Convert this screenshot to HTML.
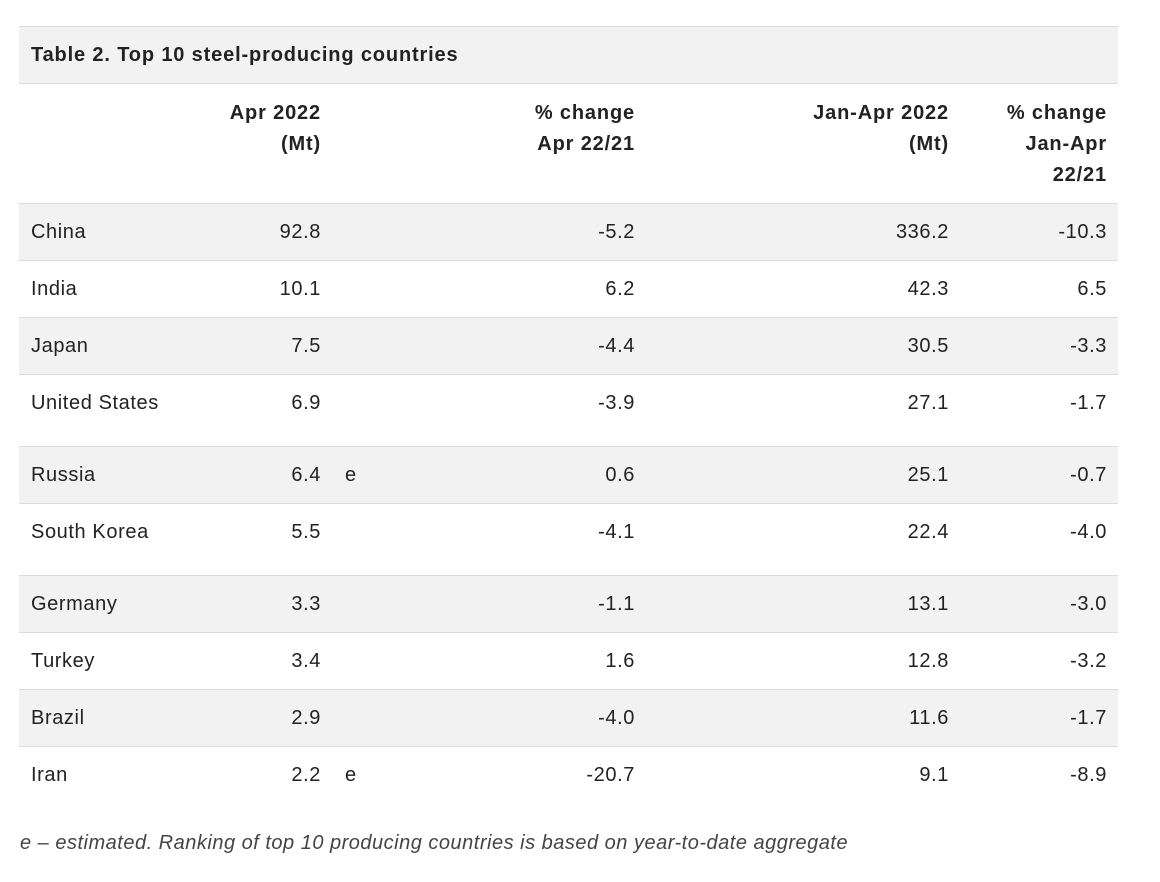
<!DOCTYPE html>
<html><head><meta charset="utf-8"><style>
body{margin:0;width:1160px;height:882px;background:#fff;font-family:"Liberation Sans",Arial,sans-serif;color:#222;position:relative;overflow:hidden}
.r{position:absolute;left:19px;width:1099px;border-top:1px solid #dcdcdc;box-sizing:border-box}
.g{background:#f2f2f2}
.t{position:absolute;font-size:20px;line-height:30px;white-space:nowrap;letter-spacing:0.6px}
.R{text-align:right}
.b{font-weight:bold;letter-spacing:0.85px}
</style></head><body>
<div class="r g" style="top:26px;height:57px"></div>
<div class="t b" style="left:31px;top:40px">Table 2. Top 10 steel-producing countries</div>
<div class="r" style="top:83px;height:120px"></div>
<div class="t b R" style="right:839px;top:98px;line-height:31px">Apr 2022<br>(Mt)</div>
<div class="t b R" style="right:525px;top:98px;line-height:31px">% change<br>Apr 22/21</div>
<div class="t b R" style="right:211px;top:98px;line-height:31px">Jan-Apr 2022<br>(Mt)</div>
<div class="t b R" style="right:53px;top:98px;line-height:31px">% change<br>Jan-Apr<br>22/21</div>
<div id="rows"></div>
<script>
var d=[["China","92.8","","-5.2","336.2","-10.3",203,57,1],["India","10.1","","6.2","42.3","6.5",260,57,0],["Japan","7.5","","-4.4","30.5","-3.3",317,57,1],["United States","6.9","","-3.9","27.1","-1.7",374,72,0],["Russia","6.4","e","0.6","25.1","-0.7",446,57,1],["South Korea","5.5","","-4.1","22.4","-4.0",503,72,0],["Germany","3.3","","-1.1","13.1","-3.0",575,57,1],["Turkey","3.4","","1.6","12.8","-3.2",632,57,0],["Brazil","2.9","","-4.0","11.6","-1.7",689,57,1],["Iran","2.2","e","-20.7","9.1","-8.9",746,57,0]];
var h="";
d.forEach(function(x){var t=x[6],y=t+14;
h+='<div class="r'+(x[8]?' g':'')+'" style="top:'+t+'px;height:'+x[7]+'px"></div>';
h+='<div class="t" style="left:31px;top:'+y+'px">'+x[0]+'</div>';
h+='<div class="t R" style="right:839px;top:'+y+'px">'+x[1]+'</div>';
if(x[2])h+='<div class="t" style="left:345px;top:'+y+'px">'+x[2]+'</div>';
h+='<div class="t R" style="right:525px;top:'+y+'px">'+x[3]+'</div>';
h+='<div class="t R" style="right:211px;top:'+y+'px">'+x[4]+'</div>';
h+='<div class="t R" style="right:53px;top:'+y+'px">'+x[5]+'</div>';});
document.getElementById("rows").innerHTML=h;
</script>
<div class="t" style="left:20px;top:828px;font-style:italic;color:#444;letter-spacing:0.5px">e – estimated. Ranking of top 10 producing countries is based on year-to-date aggregate</div>
</body></html>
